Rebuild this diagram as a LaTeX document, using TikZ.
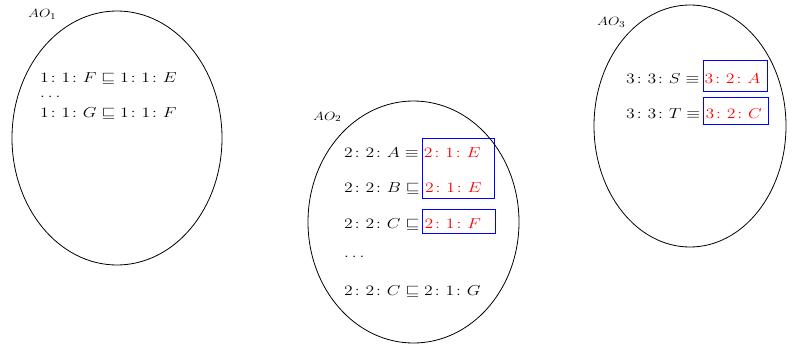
\documentclass[tikz,border=0pt]{standalone}
\usepackage{amsmath,amssymb,graphicx,xcolor}
\newcommand\wide[1]{\scalebox{1.23}[1]{#1}}
\begin{document}
\begin{tikzpicture}[x=1pt,y=-1pt,
  lbl/.style={anchor=base west,inner sep=0pt,font=\fontsize{12.3}{14}\selectfont},
  ln/.style={anchor=base west,inner sep=0pt,font=\fontsize{15}{18}\selectfont},
  rd/.style={ln,text=red},
  oval/.style={draw=black,line width=0.8pt},
  bx/.style={draw=blue,line width=1pt}]
\useasboundingbox (0,0) rectangle (795,345);
% blue boxes
\draw[bx] (422.5,138.5) rectangle (494.5,198.5);
\draw[bx] (422.5,209.5) rectangle (495.5,233.5);
\draw[bx] (703.5,60.5) rectangle (767.5,91.5);
\draw[bx] (703.5,97.5) rectangle (768.5,124.5);
% ellipses
\draw[oval] (117,138) ellipse [x radius=105, y radius=127];
\draw[oval] (413.5,222) ellipse [x radius=105.5, y radius=121];
\draw[oval] (690,126) ellipse [x radius=96, y radius=121];
% labels
\node[lbl] (l1) at (28,18) {\wide{$AO_1$}};
\node[lbl] (l2) at (313,120) {\wide{$AO_2$}};
\node[lbl] (l3) at (597,26) {\wide{$AO_3$}};
% AO1
\node[ln] (a1) at (40,82) {\wide{$1\colon 1\colon F \sqsubseteq 1\colon 1\colon E$}};
\node[ln] (a2) at (40,97) {\wide{$\ldots$}};
\node[ln] (a3) at (40,117) {\wide{$1\colon 1\colon G \sqsubseteq 1\colon 1\colon F$}};
% AO2
\node[ln] (b1) at (344,157) {\wide{$2\colon 2\colon A \equiv{}$}};
\node[rd] (b1r) at (b1.base east) {\wide{$2\colon 1\colon E$}};
\node[ln] (b2) at (344,192) {\wide{$2\colon 2\colon B \sqsubseteq{}$}};
\node[rd] (b2r) at (b2.base east) {\wide{$2\colon 1\colon E$}};
\node[ln] (b3) at (344,228) {\wide{$2\colon 2\colon C \sqsubseteq{}$}};
\node[rd] (b3r) at (b3.base east) {\wide{$2\colon 1\colon F$}};
\node[ln] (b4) at (344,257) {\wide{$\ldots$}};
\node[ln] (b5) at (344,295) {\wide{$2\colon 2\colon C \sqsubseteq 2\colon 1\colon G$}};
% AO3
\node[ln] (c1) at (626,83) {\wide{$3\colon 3\colon S \equiv{}$}};
\node[rd] (c1r) at (c1.base east) {\wide{$3\colon 2\colon A$}};
\node[ln] (c2) at (626,118) {\wide{$3\colon 3\colon T \equiv{}$}};
\node[rd] (c2r) at (c2.base east) {\wide{$3\colon 2\colon C$}};
\end{tikzpicture}
\end{document}
